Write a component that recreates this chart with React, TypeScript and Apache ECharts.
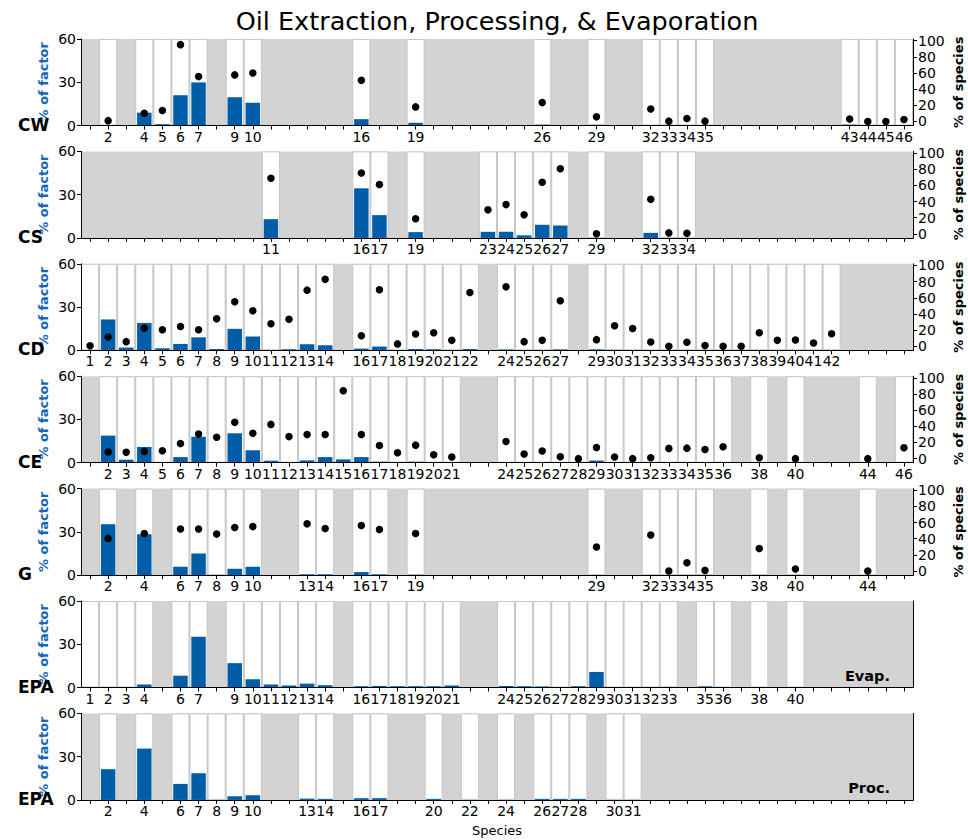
import React, { useEffect, useRef } from 'react';
import * as echarts from 'echarts';

// Species numbers on the shared x axis (1..46)
const speciesIds: string[] = Array.from({ length: 46 }, (_, i) => String(i + 1));

// CW
const cwSpecies = [2, 4, 5, 6, 7, 9, 10, 16, 19, 26, 29, 32, 33, 34, 35, 43, 44, 45, 46];
const cwFactor = [0, 8.9, 0.9, 21, 29.9, 19.6, 15.7, 4.4, 1.9, 0.6, 0.5, 0, 0, 0, 0, 0.6, 0, 0, 0];
const cwShare = [1, 10.2, 13.5, 95, 55.5, 57.6, 60, 51, 18, 23.3, 5.7, 15.5, 0.4, 3.7, 0.4, 2.9, 0, 0, 2.4];

// CS
const csSpecies = [11, 16, 17, 19, 23, 24, 25, 26, 27, 29, 32, 33, 34];
const csFactor = [13, 34.4, 15.8, 4, 4.2, 4.2, 1.8, 9.1, 8.6, 0, 3.5, 0, 0];
const csShare = [68.7, 75.2, 61, 18.7, 29.7, 36.2, 23.6, 63.8, 80.5, 0, 42.7, 1.2, 0.8];

// CD
const cdSpecies = [1, 2, 3, 4, 5, 6, 7, 8, 9, 10, 11, 12, 13, 14, 16, 17, 18, 19, 20, 21, 22, 24, 25, 26, 27,
  29, 30, 31, 32, 33, 34, 35, 36, 37, 38, 39, 40, 41, 42];
const cdFactor = [0, 21.4, 1.9, 19, 1.4, 4.4, 9, 0.9, 14.9, 9.5, 0, 0.7, 4.2, 3.5, 1.2, 2.6, 0, 0.9, 0.7, 0, 0.9,
  0.6, 0, 0.2, 0.6, 0.6, 0.3, 0, 0, 0, 0.2, 0, 0, 0, 0, 0, 0, 0, 0];
const cdShare = [0.5, 11.4, 5.7, 22.4, 20.4, 24.5, 20.4, 33.9, 55, 44, 27.8, 33.5, 69.4, 82.9, 13, 69.8, 2.9, 15.1,
  16.7, 7.3, 66.5, 73.5, 5.7, 7.3, 56.3, 8.2, 25.3, 22, 5.3, 0, 4.9, 0.8, 0, 0, 16.7, 7.3, 7.8, 4.1, 15.5];

// CE
const ceSpecies = [2, 3, 4, 5, 6, 7, 8, 9, 10, 11, 12, 13, 14, 15, 16, 17, 18, 19, 20, 21, 24, 25, 26, 27, 28, 29,
  30, 31, 32, 33, 34, 35, 36, 38, 40, 44, 46];
const ceFactor = [18.8, 2.1, 10.9, 0, 3.9, 18, 0, 20.4, 8.6, 1.4, 0, 1.6, 3.9, 2.3, 3.9, 0.7, 0, 0.7, 0, 0, 0.5, 0,
  0, 0, 0, 1.5, 0, 0, 0, 0, 0.5, 0, 0, 0, 0, 0, 0];
const ceShare = [8.2, 7.8, 9, 9.8, 18.8, 30.6, 26.5, 44.9, 31.4, 42.4, 27.3, 29.8, 29.8, 84, 29.8, 16.3, 7.3, 16.7,
  4.9, 2, 21.2, 5.7, 9.4, 2.4, 0, 13.9, 2, 0, 1.2, 12.7, 13, 11.4, 14.7, 1.2, 0, 0, 13.5];

// G
const gSpecies = [2, 4, 6, 7, 8, 9, 10, 13, 14, 16, 17, 19, 29, 32, 33, 34, 35, 38, 40, 44];
const gFactor = [35.3, 28.3, 5.8, 15, 0, 4.4, 5.8, 0.5, 0.5, 2.1, 0.5, 0.2, 0, 0, 0, 0, 0, 0, 0, 0];
const gShare = [40.4, 46.5, 52, 52, 45.7, 53.9, 55, 58.4, 52.7, 56.3, 51.4, 46.5, 29.8, 44.5, 0, 10.2, 0.8, 27.8, 2.4, 0];

// EPA evaporation profile
const evapSpecies = [1, 2, 3, 4, 6, 7, 9, 10, 11, 12, 13, 14, 16, 17, 18, 19, 20, 21, 24, 25, 26, 27, 28, 29, 30,
  31, 32, 33, 35, 36, 38, 40];
const evapFactor = [0, 0, 0, 2.1, 8.2, 35.2, 16.9, 5.7, 2.1, 1.4, 2.7, 1.6, 0.9, 1.1, 0.9, 0.9, 0.9, 1.4, 1.1, 0.9,
  0.7, 0.3, 0.9, 10.8, 0, 0, 0, 0.4, 0.8, 0, 0, 0];

// EPA processing profile
const procSpecies = [2, 4, 6, 7, 8, 9, 10, 13, 14, 16, 17, 20, 22, 24, 26, 27, 28, 30, 31];
const procFactor = [21.3, 35.6, 11.1, 18.5, 0, 2.5, 3.2, 0.9, 0.7, 1.2, 1.2, 0.7, 0, 0, 0.7, 0.7, 0.7, 0, 0];

type Panel = {
  label: string;
  species: number[];
  factor: number[];
  share?: number[];
  tag?: string;
};

const panels: Panel[] = [
  { label: 'CW', species: cwSpecies, factor: cwFactor, share: cwShare },
  { label: 'CS', species: csSpecies, factor: csFactor, share: csShare },
  { label: 'CD', species: cdSpecies, factor: cdFactor, share: cdShare },
  { label: 'CE', species: ceSpecies, factor: ceFactor, share: ceShare },
  { label: 'G', species: gSpecies, factor: gFactor, share: gShare },
  { label: 'EPA', species: evapSpecies, factor: evapFactor, tag: 'Evap.' },
  { label: 'EPA', species: procSpecies, factor: procFactor, tag: 'Proc.' },
];

const FONT = 'DejaVu Sans';
const BLUE = '#005ea8';
const GREY = '#d3d3d3';
const LEFT = 81;
const WIDTH = 832;
const TOP0 = 39;
const STEP = 112.4;
const HEIGHT = 86.5;
const SHARE_MIN = -5;
const SHARE_MAX = 102;
const TICK_FONT = 14;

function buildOption() {
  const grid: any[] = [];
  const xAxis: any[] = [];
  const yAxis: any[] = [];
  const series: any[] = [];
  const graphic: any[] = [];

  panels.forEach((p, i) => {
    const top = TOP0 + i * STEP;
    const bottom = top + HEIGHT;
    const present = new Set(p.species.map(String));
    const factorBy = new Map(p.species.map((s, k) => [String(s), p.factor[k]]));

    const g = grid.length;
    grid.push({ left: LEFT, top, width: WIDTH, height: HEIGHT, show: true, backgroundColor: GREY, borderWidth: 0 });

    const xData = xAxis.length;
    xAxis.push({
      type: 'category', gridIndex: g, data: speciesIds, boundaryGap: true, position: 'bottom', z: 10,
      axisLine: { show: true, lineStyle: { color: '#000', width: 1 } },
      axisTick: { show: true, interval: 0, alignWithLabel: true, length: 4, lineStyle: { color: '#000' } },
      axisLabel: {
        interval: 0, margin: 4, fontSize: TICK_FONT, fontFamily: FONT, color: '#000',
        formatter: (v: string) => (present.has(v) ? v : ''),
      },
      splitLine: { show: false },
    });
    const xBand = xAxis.length;
    xAxis.push({
      type: 'category', gridIndex: g, data: speciesIds, boundaryGap: true, position: 'top', z: 10,
      axisLine: { show: true, lineStyle: { color: '#000', width: 1 } },
      axisTick: { show: false }, axisLabel: { show: false }, splitLine: { show: false },
    });
    const yFactor = yAxis.length;
    yAxis.push({
      type: 'value', gridIndex: g, min: 0, max: 60, interval: 30, position: 'left', z: 10,
      axisLine: { show: true, lineStyle: { color: '#000', width: 1 } },
      axisTick: { show: true, length: 4, lineStyle: { color: '#000' } },
      axisLabel: { fontSize: TICK_FONT, fontFamily: FONT, color: '#000', margin: 5 },
      splitLine: { show: false },
    });
    const yBand = yAxis.length;
    yAxis.push({
      type: 'value', gridIndex: g, min: 0, max: 1, position: 'right', z: 10,
      axisLine: { show: true, lineStyle: { color: '#000', width: 1 } },
      axisTick: { show: false }, axisLabel: { show: false }, splitLine: { show: false },
    });

    // white bands behind the species present in this profile
    series.push({
      type: 'bar', xAxisIndex: xBand, yAxisIndex: yBand, silent: true, z: 1, barWidth: '100%',
      data: speciesIds.map((s) => (present.has(s) ? 1 : '-')),
      itemStyle: { color: '#ffffff', borderColor: '#c6c6c6', borderWidth: 1 },
    });
    series.push({
      type: 'bar', xAxisIndex: xData, yAxisIndex: yFactor, z: 3, barWidth: '80%',
      data: speciesIds.map((s) => (factorBy.has(s) ? factorBy.get(s) : '-')),
      itemStyle: { color: BLUE },
    });

    if (p.share) {
      const shareBy = new Map(p.species.map((s, k) => [String(s), p.share![k]]));
      const unit = HEIGHT / (SHARE_MAX - SHARE_MIN);
      const sg = grid.length;
      grid.push({
        left: LEFT, width: WIDTH, top: top + (SHARE_MAX - 100) * unit, height: 100 * unit, show: false,
      });
      const sx = xAxis.length;
      xAxis.push({ type: 'category', gridIndex: sg, data: speciesIds, boundaryGap: true, show: false });
      const sy = yAxis.length;
      yAxis.push({
        type: 'value', gridIndex: sg, min: 0, max: 100, interval: 20, position: 'right', z: 10,
        axisLine: { show: false },
        axisTick: { show: true, length: 4, lineStyle: { color: '#000' } },
        axisLabel: { fontSize: TICK_FONT, fontFamily: FONT, color: '#000', margin: 5 },
        splitLine: { show: false },
      });
      series.push({
        type: 'scatter', xAxisIndex: sx, yAxisIndex: sy, z: 5, symbolSize: 7.5,
        data: speciesIds.map((s) => (shareBy.has(s) ? shareBy.get(s) : '-')),
        itemStyle: { color: '#000', opacity: 1 },
      });
      graphic.push({
        type: 'text', x: 958, y: top + HEIGHT / 2, rotation: Math.PI / 2,
        style: { text: '% of species', fill: '#000', font: `bold 13px "${FONT}"`, align: 'center', verticalAlign: 'middle' },
      });
    }

    graphic.push({
      type: 'text', x: 43, y: top + HEIGHT / 2, rotation: Math.PI / 2,
      style: { text: '% of factor', fill: '#1565b8', font: `bold 13px "${FONT}"`, align: 'center', verticalAlign: 'middle' },
    });
    graphic.push({
      type: 'text', x: 18, y: bottom - 1, z: 20,
      style: { text: p.label, fill: '#000', font: `bold 17px "${FONT}"`, align: 'left', verticalAlign: 'middle' },
    });
    if (p.tag) {
      graphic.push({
        type: 'text', x: 890, y: bottom - 12, z: 20,
        style: { text: p.tag, fill: '#000', font: `bold 14.5px "${FONT}"`, align: 'right', verticalAlign: 'middle' },
      });
    }
  });

  graphic.push({
    type: 'text', x: LEFT + WIDTH / 2, y: 21,
    style: { text: 'Oil Extraction, Processing, & Evaporation', fill: '#000', font: `25.5px "${FONT}"`, align: 'center', verticalAlign: 'middle' },
  });
  graphic.push({
    type: 'text', x: LEFT + WIDTH / 2, y: 830,
    style: { text: 'Species', fill: '#000', font: `13px "${FONT}"`, align: 'center', verticalAlign: 'middle' },
  });

  return { animation: false, backgroundColor: '#fff', grid, xAxis, yAxis, series, graphic };
}

export default function App() {
  const ref = useRef<HTMLDivElement>(null);
  useEffect(() => {
    if (!ref.current) return;
    const chart = echarts.init(ref.current, undefined, { renderer: 'svg' });
    chart.setOption(buildOption() as any);
    return () => chart.dispose();
  }, []);
  return <div ref={ref} style={{ position: 'fixed', left: 0, top: 0, width: 968, height: 840 }} />;
}
